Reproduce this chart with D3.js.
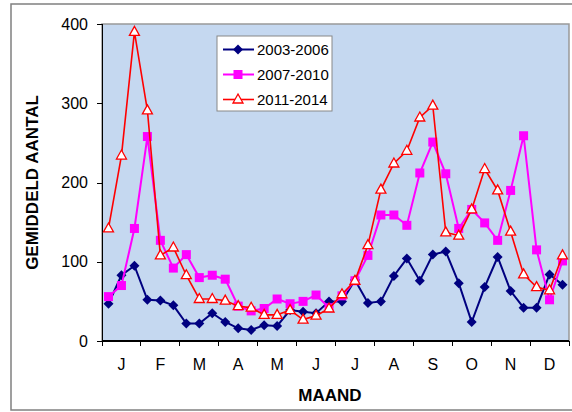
<!DOCTYPE html>
<meta charset="utf-8">
<style>
body { margin: 0; background: #fff; }
text { font-family: "Liberation Sans", Arial, sans-serif; fill: #000; }
.axis text { font-size: 16px; }
.axis path, .axis line { stroke: #000; shape-rendering: crispEdges; }
</style>
<body>
<script src="https://d3js.org/d3.v7.min.js"></script>
<script>
// month labels (J..D), each month split in 3 decades -> 36 points
var months = ["J", "F", "M", "A", "M", "J", "J", "A", "S", "O", "N", "D"];
var yTicks = [0, 100, 200, 300, 400];

var s2003 = [47, 83, 95, 52, 51, 45, 22, 22, 35, 24, 16, 14, 20, 19, 39, 37, 35, 50,
             50, 77, 48, 50, 82, 104, 76, 109, 113, 73, 24, 68, 106, 63, 42, 42, 84, 71];
var s2007 = [56, 70, 142, 258, 127, 92, 109, 80, 83, 78, 44, 38, 41, 53, 47, 50, 58, 42,
             57, 76, 108, 159, 159, 146, 212, 251, 211, 142, 166, 149, 127, 190, 259, 115, 52, 101];
var s2011 = [142, 234, 390, 291, 108, 118, 83, 53, 53, 51, 44, 42, 33, 33, 39, 27, 32, 41,
             59, 76, 121, 191, 224, 240, 282, 297, 137, 133, 166, 217, 190, 138, 84, 68, 64, 108];

var series = [
  {name: "2003-2006", values: s2003, color: "#000080", marker: "diamond"},
  {name: "2007-2010", values: s2007, color: "#ff00ff", marker: "square"},
  {name: "2011-2014", values: s2011, color: "#ff0000", marker: "triangle"}
];

var W = 572, H = 412;
var margin = {top: 24, right: 3, bottom: 71, left: 102};
var width = W - margin.left - margin.right,
    height = H - margin.top - margin.bottom;

var svg = d3.select("body").append("svg")
    .attr("width", W)
    .attr("height", H);

// outer chart frame
svg.append("rect")
    .attr("x", 11).attr("y", 4)
    .attr("width", 620).attr("height", 406)
    .attr("fill", "none")
    .attr("stroke", "#808080")
    .attr("stroke-width", 1.5);

var g = svg.append("g")
    .attr("transform", "translate(" + margin.left + "," + margin.top + ")");

var x = d3.scaleLinear().domain([0, months.length * 3]).range([0, width]);
var xm = d3.scaleBand().domain(d3.range(months.length)).range([0, width]);
var y = d3.scaleLinear().domain([0, 400]).range([height, 0]);

// plot area
g.append("rect")
    .attr("width", width).attr("height", height)
    .attr("fill", "#c5d8f0")
    .attr("stroke", "#999")
    .attr("stroke-width", 1.5);

// y axis
g.append("g")
    .attr("class", "axis")
    .call(d3.axisLeft(y).tickValues(yTicks).tickSize(5).tickPadding(9))
    .call(function(a) { a.select(".domain").attr("d", "M0," + height + "V0"); });

// x axis: ticks at month boundaries, labels centred in months
var xAxis = g.append("g")
    .attr("class", "axis")
    .attr("transform", "translate(0," + height + ")");
xAxis.append("line").attr("x1", 0).attr("x2", width).attr("stroke", "#000").attr("stroke-width", 1.5);
xAxis.selectAll(".tick").data(d3.range(months.length + 1)).enter().append("line")
    .attr("x1", function(d) { return x(d * 3); })
    .attr("x2", function(d) { return x(d * 3); })
    .attr("y2", 5);
xAxis.selectAll(".lab").data(months).enter().append("text")
    .attr("x", function(d, i) { return xm(i) + xm.bandwidth() / 2; })
    .attr("y", 29)
    .attr("text-anchor", "middle")
    .text(function(d) { return d; });

// axis titles
svg.append("text")
    .attr("x", 330).attr("y", 401)
    .attr("text-anchor", "middle")
    .style("font-size", "17px").style("font-weight", "bold")
    .text("MAAND");
svg.append("text")
    .attr("transform", "translate(38," + (margin.top + height / 2) + ") rotate(-90)")
    .attr("text-anchor", "middle")
    .style("font-size", "17px").style("font-weight", "bold")
    .text("GEMIDDELD AANTAL");

function drawMarker(sel, s) {
  if (s.marker === "diamond") {
    sel.append("path").attr("d", "M0,-5L5,0L0,5L-5,0Z").attr("fill", s.color);
  } else if (s.marker === "square") {
    sel.append("rect").attr("x", -4.5).attr("y", -4.5).attr("width", 9).attr("height", 9).attr("fill", s.color);
  } else {
    sel.append("path").attr("d", "M0,-5.5L5,3.5L-5,3.5Z")
        .attr("fill", "#fff").attr("stroke", s.color).attr("stroke-width", 1.3);
  }
}

var line = d3.line()
    .x(function(d, i) { return x(i + 0.5); })
    .y(function(d) { return y(d); });

series.forEach(function(s) {
  var sg = g.append("g");
  sg.append("path")
      .datum(s.values)
      .attr("d", line)
      .attr("fill", "none")
      .attr("stroke", s.color)
      .attr("stroke-width", s.marker === "triangle" ? 1.6 : 2);
  sg.selectAll(".pt").data(s.values).enter().append("g")
      .attr("transform", function(d, i) { return "translate(" + x(i + 0.5) + "," + y(d) + ")"; })
      .each(function() { drawMarker(d3.select(this), s); });
});

// legend
var lg = svg.append("g").attr("transform", "translate(217,36)");
lg.append("rect")
    .attr("width", 115).attr("height", 75)
    .attr("fill", "#fff").attr("stroke", "#888");
series.forEach(function(s, i) {
  var row = lg.append("g").attr("transform", "translate(0," + (13.5 + i * 25) + ")");
  row.append("line").attr("x1", 6).attr("x2", 37)
      .attr("stroke", s.color).attr("stroke-width", s.marker === "triangle" ? 1.6 : 2);
  drawMarker(row.append("g").attr("transform", "translate(21,0)"), s);
  row.append("text").attr("x", 40).attr("y", 5.5)
      .style("font-size", "15px")
      .text(s.name);
});
</script>
